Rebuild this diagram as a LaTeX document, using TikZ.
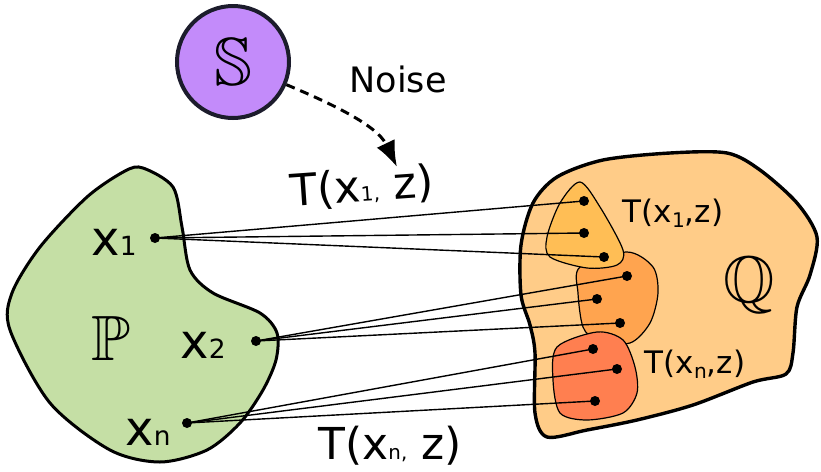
\documentclass[tikz,border=0pt]{standalone}
\usepackage{fontspec}
\setmainfont{DejaVu Sans}
\usepackage{amssymb}
\usetikzlibrary{arrows.meta}

\definecolor{pgreen}{HTML}{C5DFA5}
\definecolor{spurple}{HTML}{C38BFA}
\definecolor{sborder}{HTML}{1C1C2C}
\definecolor{qorange}{HTML}{FFCC88}
\definecolor{tyellow}{HTML}{FFBE55}
\definecolor{torange}{HTML}{FFA44F}
\definecolor{tred}{HTML}{FF7F50}

\newcommand{\idx}[2]{\scalebox{#1}{#2}}

\begin{document}
\begin{tikzpicture}[
		x=0.5pt, y=-0.5pt,
		every node/.style={inner sep=0pt},
		dot/.style={circle, fill=black, minimum size=5pt},
		bigblob/.style={draw=black, line width=1.7pt},
		subblob/.style={draw=black, line width=0.6pt},
		link/.style={line width=0.7pt}
	]
	\useasboundingbox (0,0) rectangle (821,472);

	% Q and its three images
	\draw[bigblob, fill=qorange] plot[smooth cycle] coordinates {(533,203) (557,177) (603,160) (670,153) (727,153) (760,170) (797,203) (817,237) (810,275) (797,307) (793,353) (786,374) (753,382) (693,405) (637,420) (587,430) (547,437) (535,413) (535,353) (530,325) (521,295) (521,245)};
	\draw[subblob, fill=torange] plot[smooth cycle] coordinates {(580,267) (627,252) (653,267) (658,293) (650,323) (630,343) (597,340) (583,327) (578,293)};
	\draw[subblob, fill=tyellow] plot[smooth cycle] coordinates {(580,182) (600,207) (623,250) (617,265) (587,268) (550,257) (547,237) (560,203)};
	\draw[subblob, fill=tred] plot[smooth cycle] coordinates {(557,347) (597,332) (623,340) (635,367) (637,393) (623,413) (587,420) (560,413) (553,380)};

	% P
	\draw[line width=1.5pt, fill=pgreen] plot[smooth cycle] coordinates {(143,168) (173,187) (182,227) (190,270) (213,293) (260,313) (277,333) (276,360) (263,390) (240,423) (207,450) (160,462) (110,450) (50,403) (10,330) (12,293) (40,247) (87,197) (125,171)};

	\node[circle, draw=sborder, line width=2pt, fill=spurple, minimum size=56pt] (S) at (233,62) {\fontsize{34}{34}\selectfont$\mathbb{S}$};
	\coordinate (noisetip) at (397,167);
	\draw[line width=1.5pt, dash pattern=on 4.5pt off 3pt, -{Latex[length=13pt, width=10pt]}] (S.-23) .. controls (330,103) and (377,125) .. (noisetip);
	\node[anchor=base, font=\fontsize{17.5}{20}\selectfont] (noise) at (398,92) {Noise};

	% points
	\node[dot] (x1) at (155,238) {};
	\node[dot] (x2) at (256,341) {};
	\node[dot] (xn) at (187,423) {};
	\node[dot] (t11) at (584,201) {};
	\node[dot] (t12) at (584,233) {};
	\node[dot] (t13) at (604,257) {};
	\node[dot] (t21) at (627,276) {};
	\node[dot] (t22) at (597,299) {};
	\node[dot] (t23) at (620,323) {};
	\node[dot] (tn1) at (593,349) {};
	\node[dot] (tn2) at (617,369) {};
	\node[dot] (tn3) at (595,401) {};

	\draw[link] (x1.center) -- (t11.center);
	\draw[link] (x1.center) -- (t12.center);
	\draw[link] (x1.center) -- (t13.center);
	\draw[link] (x2.center) -- (t21.center);
	\draw[link] (x2.center) -- (t22.center);
	\draw[link] (x2.center) -- (t23.center);
	\draw[link] (xn.center) -- (tn1.center);
	\draw[link] (xn.center) -- (tn2.center);
	\draw[link] (xn.center) -- (tn3.center);

	% labels
	\node[anchor=base, font=\fontsize{24}{28}\selectfont] (lx1) at (114,255) {x\idx{0.55}{1}};
	\node[anchor=base, font=\fontsize{24}{28}\selectfont] (lx2) at (203,358) {x\idx{0.55}{2}};
	\node[anchor=base, font=\fontsize{24}{28}\selectfont] (lxn) at (148,445) {x\idx{0.55}{n}};
	\node[anchor=base, font=\fontsize{32}{32}\selectfont] (lP) at (111,360) {$\mathbb{P}$};
	\node[anchor=base, font=\fontsize{33}{33}\selectfont] (lQ) at (749,302) {$\mathbb{Q}$};
	\node[anchor=base, font=\fontsize{15.5}{18}\selectfont] (lt1) at (673,222) {T(x\raisebox{-0.3ex}{\idx{0.65}{1}},z)};
	\node[anchor=base, font=\fontsize{15.5}{18}\selectfont] (ltn) at (695,373) {T(x\raisebox{-0.3ex}{\idx{0.65}{n}},z)};
	\node[rotate=4, font=\fontsize{22}{26}\selectfont] (top) at (362,188) {T(x\idx{0.45}{1,} z)};
	\node[font=\fontsize{22}{26}\selectfont] (bottom) at (390,446) {T(x\idx{0.45}{n,} z)};
\end{tikzpicture}
\end{document}
